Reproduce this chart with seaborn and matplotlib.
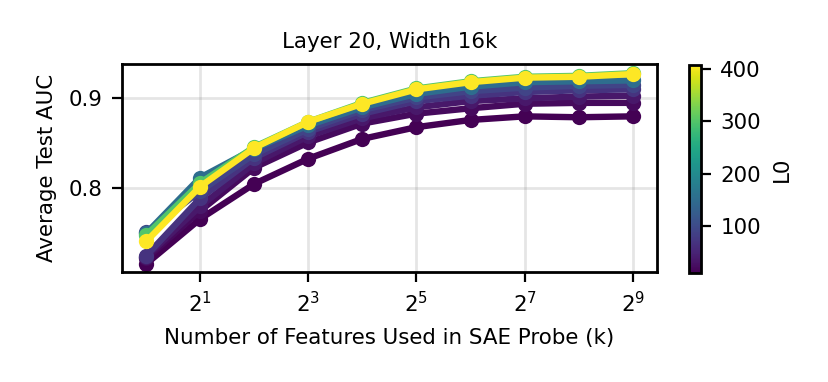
import numpy as np
import pandas as pd
import matplotlib
matplotlib.use("Agg")
import matplotlib.pyplot as plt
import seaborn as sns

k_values = [1, 2, 4, 8, 16, 32, 64, 128, 256, 512]
l0_values = [11, 20, 36, 68, 90, 150, 300, 408]
auc_l0_11 = [0.716, 0.766, 0.805, 0.833, 0.855, 0.868, 0.876, 0.880, 0.879, 0.880]
auc_l0_20 = [0.722, 0.775, 0.823, 0.851, 0.872, 0.883, 0.889, 0.894, 0.895, 0.895]
auc_l0_36 = [0.724, 0.780, 0.828, 0.858, 0.878, 0.890, 0.897, 0.900, 0.902, 0.903]
auc_l0_68 = [0.725, 0.789, 0.834, 0.863, 0.883, 0.897, 0.903, 0.907, 0.909, 0.910]
auc_l0_90 = [0.751, 0.797, 0.838, 0.866, 0.887, 0.901, 0.908, 0.912, 0.914, 0.915]
auc_l0_150 = [0.750, 0.812, 0.844, 0.870, 0.890, 0.905, 0.913, 0.918, 0.919, 0.920]
auc_l0_300 = [0.748, 0.806, 0.846, 0.874, 0.895, 0.911, 0.919, 0.924, 0.925, 0.928]
auc_l0_408 = [0.741, 0.802, 0.845, 0.874, 0.894, 0.910, 0.918, 0.923, 0.924, 0.927]

series = [auc_l0_11, auc_l0_20, auc_l0_36, auc_l0_68,
          auc_l0_90, auc_l0_150, auc_l0_300, auc_l0_408]

rows = []
for l0, aucs in zip(l0_values, series):
    for k, auc in zip(k_values, aucs):
        rows.append({"k": k, "auc": auc, "L0": l0})
df = pd.DataFrame(rows)

plt.rcParams["font.size"] = 7.7
plt.rcParams["axes.linewidth"] = 1.0

fig = plt.figure(figsize=(4.145, 1.91), dpi=200)
ax = fig.add_axes([0.147, 0.288, 0.6455, 0.544])

norm = matplotlib.colors.Normalize(vmin=10, vmax=408)
sns.lineplot(
    data=df, x="k", y="auc", hue="L0",
    palette="viridis", hue_norm=norm,
    marker="o", markersize=5.5, markeredgewidth=0,
    linewidth=2.3, legend=False, ax=ax
)

ax.set_xscale("log", base=2)
ax.set_xticks([2, 8, 32, 128, 512])
ax.set_xticklabels([r"$2^{1}$", r"$2^{3}$", r"$2^{5}$", r"$2^{7}$", r"$2^{9}$"])
ax.minorticks_off()
ax.set_yticks([0.8, 0.9])
ax.set_ylim(0.707, 0.938)
ax.grid(True, color="gray", alpha=0.2, linewidth=1)
ax.set_title("Layer 20, Width 16k", fontsize=7.7)
ax.set_xlabel("Number of Features Used in SAE Probe (k)", fontsize=7.7)
ax.set_ylabel("Average Test AUC", fontsize=7.7)

cax = fig.add_axes([0.831, 0.285, 0.0145, 0.545])
sm = matplotlib.cm.ScalarMappable(cmap="viridis", norm=norm)
cb = fig.colorbar(sm, cax=cax)
cb.set_ticks([100, 200, 300, 400])
cb.set_label("L0", fontsize=7.7)

fig.savefig("out.png", dpi=200)
